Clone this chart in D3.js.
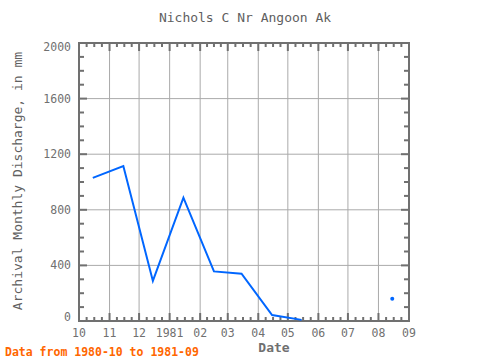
<!DOCTYPE html>
<html><head><meta charset="utf-8">
<script src="https://cdn.jsdelivr.net/npm/d3@7"></script>
<style>body{margin:0;background:#fff;} svg{display:block;}</style>
</head><body>
<script>
const title = "Nichols C Nr Angoon Ak";
const yLabel = "Archival Monthly Discharge, in mm";
const xLabel = "Date";
const footer = "Data from 1980-10 to 1981-09";
// monthly values (null = missing)
const months = ["1980-10","1980-11","1980-12","1981-01","1981-02","1981-03","1981-04","1981-05","1981-06","1981-07","1981-08"];
const values = [1030, 1115, 288, 887, 357, 340, 43, 8, null, null, 160];
const xTickLabels = ["10","11","12","1981","02","03","04","05","06","07","08","09"];
const yTicks = [0, 400, 800, 1200, 1600, 2000];

const W = 480, H = 360;
const m = {left: 79, right: 409, top: 43, bottom: 321};
const svg = d3.select("body").append("svg").attr("width", W).attr("height", H);
const font = "'DejaVu Sans Mono', monospace";
const parse = d3.timeParse("%Y-%m");
const x = d3.scaleTime().domain([new Date(1980,9,1), new Date(1981,8,1)]).range([m.left, m.right]);
const y = d3.scaleLinear().domain([0, 2000]).range([m.bottom, m.top]);
const monthTicks = d3.timeMonth.range(new Date(1980,9,1), new Date(1981,8,2));

// grid
const g = svg.append("g");
g.selectAll("line.vg").data(monthTicks).enter().append("line")
  .attr("x1", d => x(d)).attr("x2", d => x(d)).attr("y1", m.top).attr("y2", m.bottom)
  .attr("stroke", "#aaaaaa").attr("stroke-width", 1);
g.selectAll("line.hg").data(yTicks).enter().append("line")
  .attr("x1", m.left).attr("x2", m.right).attr("y1", d => y(d)).attr("y2", d => y(d))
  .attr("stroke", "#aaaaaa").attr("stroke-width", 1);

const axisColor = "#707070";
// minor x ticks (quarter months)
const xMinor = [];
monthTicks.slice(0, -1).forEach((d, i) => {
  const a = x(d), b = x(monthTicks[i+1]);
  for (let k = 1; k < 4; k++) xMinor.push(a + (b - a) * k / 4);
});
const tk = svg.append("g").attr("stroke", axisColor).attr("stroke-width", 2);
xMinor.forEach(px => {
  tk.append("line").attr("x1", px).attr("x2", px).attr("y1", m.top).attr("y2", m.top + 4);
  tk.append("line").attr("x1", px).attr("x2", px).attr("y1", m.bottom).attr("y2", m.bottom - 4);
});
monthTicks.forEach(d => {
  tk.append("line").attr("x1", x(d)).attr("x2", x(d)).attr("y1", m.top).attr("y2", m.top + 8);
  tk.append("line").attr("x1", x(d)).attr("x2", x(d)).attr("y1", m.bottom).attr("y2", m.bottom - 8);
});
d3.range(100, 2000, 100).filter(v => v % 400 !== 0).forEach(v => {
  tk.append("line").attr("x1", m.left).attr("x2", m.left + 5).attr("y1", y(v)).attr("y2", y(v));
  tk.append("line").attr("x1", m.right).attr("x2", m.right - 5).attr("y1", y(v)).attr("y2", y(v));
});
yTicks.forEach(v => {
  tk.append("line").attr("x1", m.left).attr("x2", m.left + 8).attr("y1", y(v)).attr("y2", y(v));
  tk.append("line").attr("x1", m.right).attr("x2", m.right - 8).attr("y1", y(v)).attr("y2", y(v));
});
svg.append("rect").attr("x", m.left).attr("y", m.top).attr("width", m.right - m.left).attr("height", m.bottom - m.top)
  .attr("fill", "none").attr("stroke", axisColor).attr("stroke-width", 2);

// tick labels
svg.append("g").selectAll("text").data(yTicks).enter().append("text")
  .attr("x", 71).attr("y", d => Math.min(Math.max(y(d), 47), 317))
  .attr("dy", "0.35em").attr("text-anchor", "end")
  .attr("font-family", font).attr("font-size", 11.5).attr("fill", "#707070").text(d => d);
svg.append("g").selectAll("text").data(monthTicks).enter().append("text")
  .attr("x", d => x(d)).attr("y", 337).attr("text-anchor", "middle")
  .attr("font-family", font).attr("font-size", 11.5).attr("fill", "#707070")
  .text((d, i) => xTickLabels[i]);

// data
const data = months.map((mm, i) => {
  const d = parse(mm); d.setDate(15);
  return {date: d, value: values[i]};
});
const line = d3.line().defined(d => d.value != null).x(d => x(d.date)).y(d => y(d.value));
svg.append("path").datum(data).attr("d", line).attr("fill", "none")
  .attr("stroke", "#0066ff").attr("stroke-width", 2);
// isolated points
const iso = data.filter((d, i) => d.value != null && (i === 0 || data[i-1].value == null) && (i === data.length-1 || data[i+1].value == null));
svg.selectAll("circle.iso").data(iso).enter().append("circle")
  .attr("cx", d => x(d.date)).attr("cy", d => y(d.value)).attr("r", 2).attr("fill", "#0066ff");

// titles
svg.append("text").attr("x", 245).attr("y", 22).attr("text-anchor", "middle")
  .attr("font-family", font).attr("font-size", 13).attr("fill", "#606060").text(title);
svg.append("text").attr("transform", "translate(22,181) rotate(-90)").attr("text-anchor", "middle")
  .attr("font-family", font).attr("font-size", 13).attr("fill", "#606060").text(yLabel);
svg.append("text").attr("x", 274).attr("y", 352).attr("text-anchor", "middle")
  .attr("font-family", font).attr("font-size", 13).attr("font-weight", "bold").attr("fill", "#707070").text(xLabel);
svg.append("text").attr("x", 5).attr("y", 356)
  .attr("font-family", font).attr("font-size", 11.5).attr("font-weight", "bold").attr("fill", "#ff6600").text(footer);
</script>
</body></html>
